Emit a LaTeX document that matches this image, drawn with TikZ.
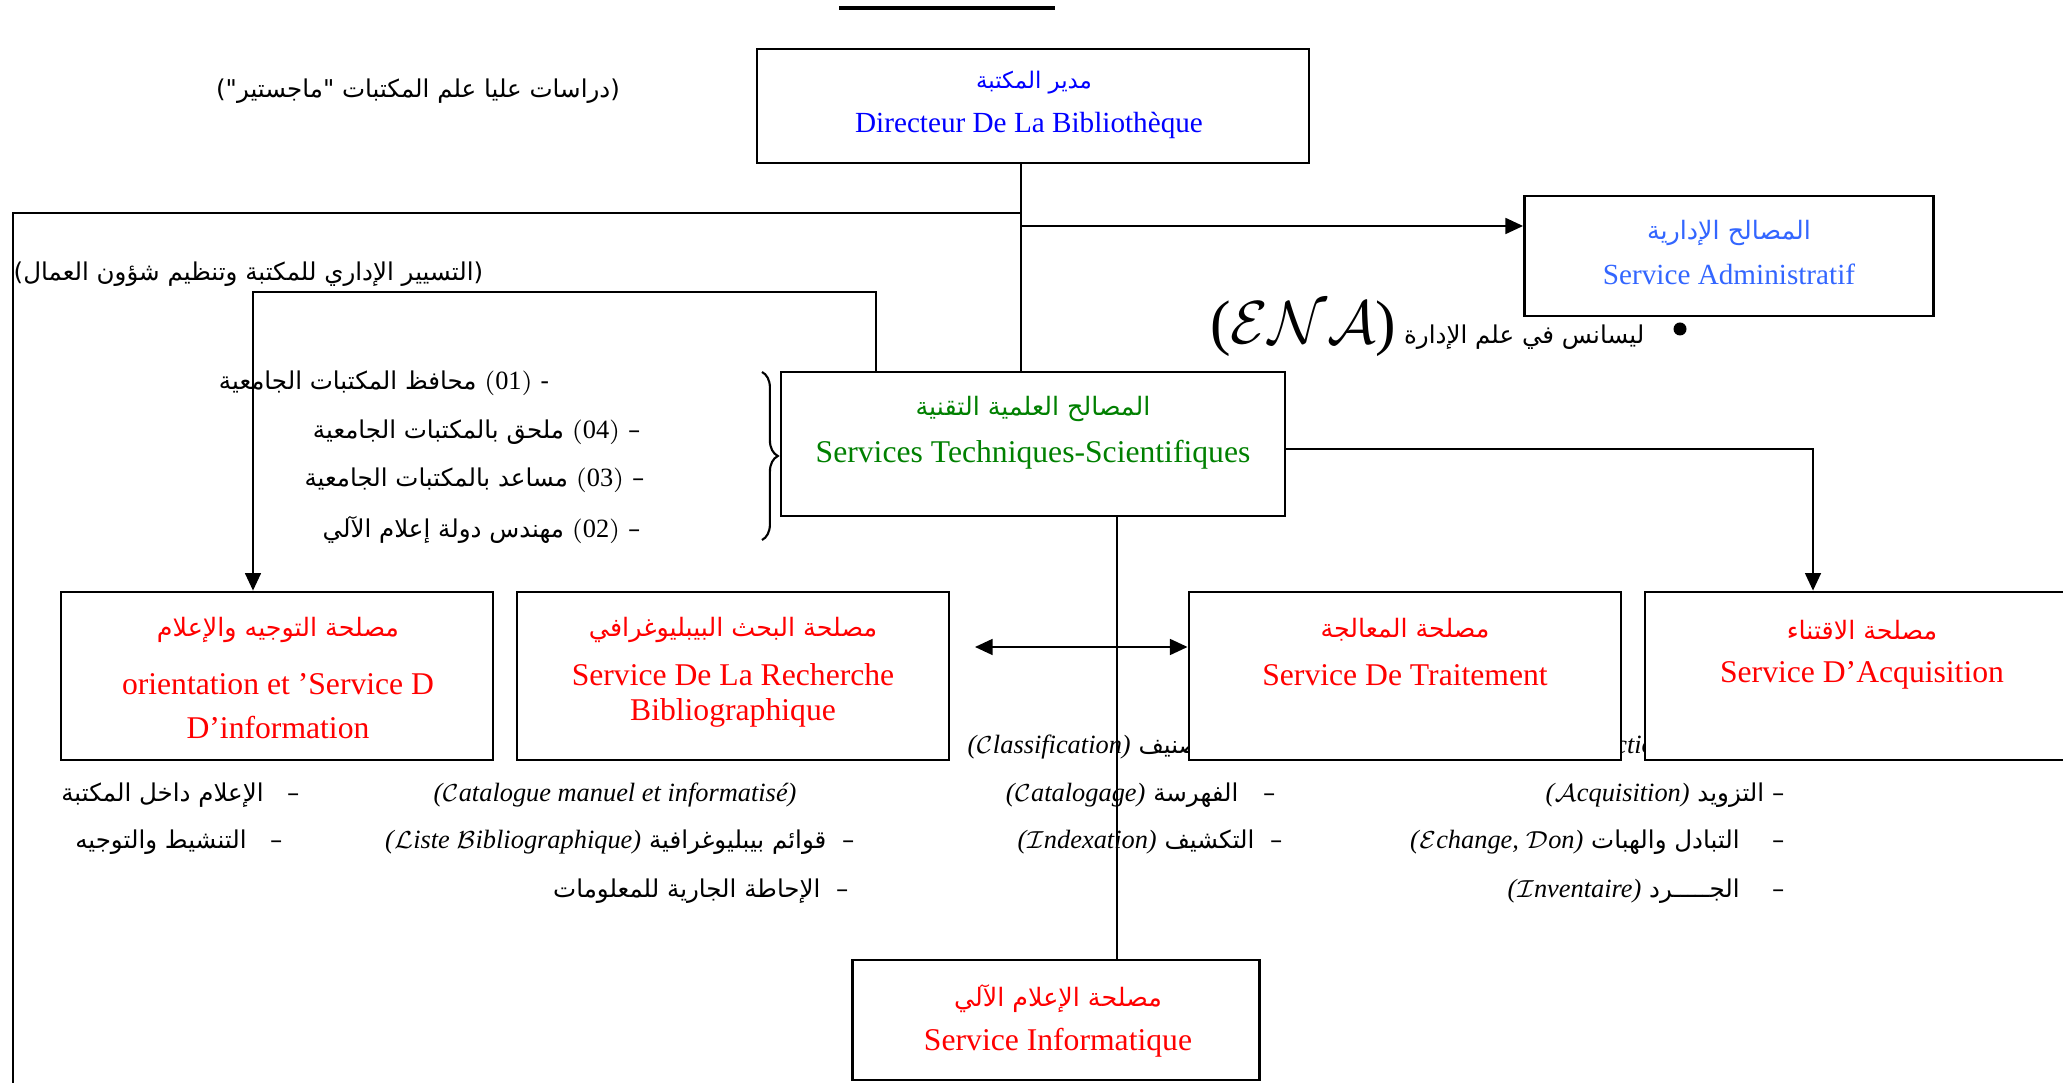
\documentclass[tikz,border=0pt]{standalone}
\usepackage{fontspec}
\setmainfont{Liberation Serif}
\newfontfamily\arabicfont[Script=Arabic, Scale=0.93]{DejaVu Sans}
\TeXXeTstate=1
\usetikzlibrary{positioning, calc, arrows.meta, decorations.pathreplacing}
\usepackage{xcolor}
\definecolor{DirBlue}{RGB}{0,0,255}
\definecolor{AdmBlue}{RGB}{51,102,255}
\definecolor{TechGreen}{RGB}{0,128,0}
\definecolor{ServRed}{RGB}{255,0,0}
\newcommand{\artxt}[1]{{\arabicfont\beginR #1\endR}}
\newcommand{\latpar}[1]{\beginL{\rmfamily\itshape(#1)}\endL{}}

\begin{document}
\begin{tikzpicture}[x=0.01cm, y=-0.01cm,
  unit/.style={draw, line width=0.75pt, fill=white, inner sep=0pt},
  ttl/.style={inner sep=0pt, font=\fontsize{9}{11}\selectfont},
  ttlsm/.style={inner sep=0pt, font=\fontsize{8.3}{10}\selectfont},
  ttlar/.style={inner sep=0pt, font=\fontsize{7.75}{9}\selectfont},
  note/.style={inner sep=0pt, font=\fontsize{7.5}{9}\selectfont},
  link/.style={line width=0.6pt},
  arr/.style={-{Triangle[length=5pt, width=4.5pt]}, line width=0.6pt},
  dblarr/.style={{Triangle[length=5pt, width=4.5pt]}-{Triangle[length=5pt, width=4.5pt]}, line width=0.6pt}
]
  \useasboundingbox (0,0) rectangle (2063,1083);
  \draw[line width=1.2pt] (839,8) -- (1055,8);
  % rows hidden under the boxes
  \node[note, anchor=west] (h1) at (967,747) {\artxt{–\ \ التصنيف \latpar{\(\mathcal{C}\)lassification}}};
  \node[note, anchor=west] (h2) at (1556,747) {\artxt{–\ \ الإختيار \latpar{\(\mathcal{S}\)élection}}};
  % notes
  \node[note] (mag) at (418,91) {\artxt{(دراسات عليا علم المكتبات "ماجستير")}};
  \node[note, anchor=west] (gest) at (13,274) {\artxt{(التسيير الإداري للمكتبة وتنظيم شؤون العمال)}};
  \node[note, anchor=east] (lic) at (1645,329) {\artxt{ليسانس في علم الإدارة \beginL{\fontsize{17.5}{18}\selectfont\rmfamily(\(\mathcal{ENA}\))}\endL{}}};
  \node[circle, fill, inner sep=0pt, minimum size=0.13cm] (bul) at (1680,329) {};
  \node[note, anchor=east] (g1) at (550,383) {\artxt{-\ \(\mathrm{(01)}\) محافظ المكتبات الجامعية}};
  \node[note, anchor=east] (g2) at (641,432) {\artxt{–\ \(\mathrm{(04)}\) ملحق بالمكتبات الجامعية}};
  \node[note, anchor=east] (g3) at (645,480) {\artxt{–\ \(\mathrm{(03)}\) مساعد بالمكتبات الجامعية}};
  \node[note, anchor=east] (g4) at (641,530) {\artxt{–\ \(\mathrm{(02)}\) مهندس دولة إعلام الآلي}};
  \node[note, anchor=east] (o1) at (300,795) {\artxt{–\ \ \ الإعلام داخل المكتبة}};
  \node[note, anchor=east] (o2) at (283,842) {\artxt{–\ \ \ التنشيط والتوجيه}};
  \node[note] (b0) at (615,795) {\latpar{\(\mathcal{C}\)atalogue manuel et informatisé}};
  \node[note, anchor=east] (b1) at (855,842) {\artxt{–\ \ قوائم بيبليوغرافية \latpar{\(\mathcal{L}\)iste \(\mathcal{B}\)ibliographique}}};
  \node[note, anchor=east] (b2) at (849,891) {\artxt{–\ \ الإحاطة الجارية للمعلومات}};
  \node[note, anchor=east] (t1) at (1276,795) {\artxt{–\quad الفهرسة \latpar{\(\mathcal{C}\)atalogage}}};
  \node[note, anchor=east] (t2) at (1283,842) {\artxt{–\ \ التكشيف \latpar{\(\mathcal{I}\)ndexation}}};
  \node[note, anchor=east] (a1) at (1785,795) {\artxt{–\ التزويد \latpar{\(\mathcal{A}\)cquisition}}};
  \node[note, anchor=east] (a2) at (1785,842) {\artxt{–\quad\ التبادل والهبات \latpar{\(\mathcal{E}\)change, \(\mathcal{D}\)on}}};
  \node[note, anchor=east] (a3) at (1785,891) {\artxt{–\quad\ الجـــــرد \latpar{\(\mathcal{I}\)nventaire}}};
  % boxes
  \node[unit, minimum width=5.52cm, minimum height=1.14cm] (dir) at (1033,106) {};
  \node[ttlar, DirBlue, font=\fontsize{7}{9}\selectfont] (dirA) at (1034,83) {\artxt{مدير المكتبة}};
  \node[ttlsm, DirBlue] (dirF) at (1029,125) {Directeur De La Bibliothèque};
  \node[unit, minimum width=4.09cm, minimum height=1.2cm] (adm) at (1729,256) {};
  \node[ttlar, AdmBlue] (admA) at (1729,233) {\artxt{المصالح الإدارية}};
  \node[ttlsm, AdmBlue] (admF) at (1729,274) {Service Administratif};
  \node[unit, minimum width=5.04cm, minimum height=1.44cm] (tech) at (1033,444) {};
  \node[ttlar, TechGreen] (techA) at (1033,409) {\artxt{المصالح العلمية التقنية}};
  \node[ttl, TechGreen] (techF) at (1033,455) {Services Techniques-Scientifiques};
  \node[unit, minimum width=4.32cm, minimum height=1.68cm] (ori) at (277,676) {};
  \node[ttlar, ServRed] (oriA) at (278,630) {\artxt{مصلحة التوجيه والإعلام}};
  \node[ttl, ServRed] (oriF) at (278,684) {orientation et ’Service D};
  \node[ttl, ServRed] (oriG) at (278,728) {D’information};
  \node[unit, minimum width=4.32cm, minimum height=1.68cm] (rech) at (733,676) {};
  \node[ttlar, ServRed] (rechA) at (733,630) {\artxt{مصلحة البحث البيبليوغرافي}};
  \node[ttl, ServRed] (rechF) at (733,675) {Service De La Recherche};
  \node[ttl, ServRed] (rechG) at (733,713) {Bibliographique};
  \node[unit, minimum width=4.32cm, minimum height=1.68cm] (trait) at (1405,676) {};
  \node[ttlar, ServRed] (traitA) at (1405,630) {\artxt{مصلحة المعالجة}};
  \node[ttl, ServRed] (traitF) at (1405,675) {Service De Traitement};
  \node[unit, minimum width=4.4cm, minimum height=1.68cm] (acq) at (1865,676) {};
  \node[ttlar, ServRed] (acqA) at (1862,630) {\artxt{مصلحة الاقتناء}};
  \node[ttl, ServRed] (acqF) at (1862,675) {Service D’Acquisition};
  \node[unit, minimum width=4.07cm, minimum height=1.2cm] (info) at (1056,1020) {};
  \node[ttlar, ServRed] (infoA) at (1058,999) {\artxt{مصلحة الإعلام الآلي}};
  \node[ttl, ServRed] (infoF) at (1058,1043) {Service Informatique};
  % connectors
  \coordinate (tk) at (1021,213);
  \coordinate (fl) at (13,213);
  \coordinate (fb) at (13,1090);
  \coordinate (ta) at (1021,226);
  \coordinate (rt) at (876,292);
  \coordinate (lt) at (253,292);
  \coordinate (qt) at (1813,449);
  \coordinate (da) at (975,647);
  \coordinate (it) at (1117,0);
  \draw[link] (dir.south -| tk) -- (tech.north -| tk);
  \draw[link] (tk) -- (fl) -- (fb);
  \draw[arr] (ta) -- (ta -| adm.west);
  \draw[arr] (tech.north -| rt) -- (rt) -- (lt) -- (ori.north -| lt);
  \draw[arr] (tech.east |- qt) -- (qt) -- (acq.north -| qt);
  \draw[dblarr] (da) -- (da -| trait.west);
  \draw[link] (tech.south -| it) -- (info.north -| it);
  \draw[line width=0.6pt, decorate, decoration={brace, amplitude=4.5pt}] (762,372) -- (762,540);
\end{tikzpicture}
\end{document}
